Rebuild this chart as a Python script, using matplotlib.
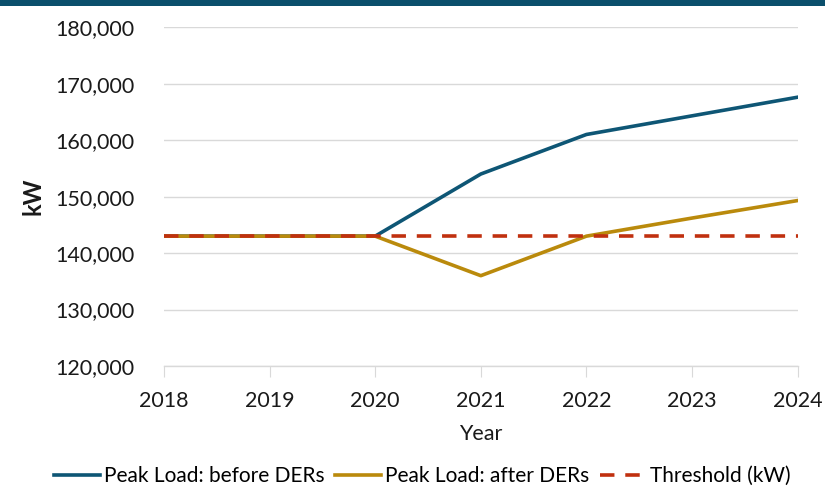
import matplotlib.pyplot as plt
from matplotlib.ticker import FuncFormatter

plt.rcParams["font.family"] = ["Lato", "DejaVu Sans"]

# data
years = [2018, 2019, 2020, 2021, 2022, 2023, 2024]
before_ders = [143000, 143000, 143000, 154000, 161000, 164300, 167600]
after_ders = [143000, 143000, 143000, 136000, 143000, 146200, 149300]
threshold = [143000] * 7

fig = plt.figure(figsize=(8.25, 4.94), dpi=100)
fig.patch.set_facecolor("white")

# dark band on top
fig.add_artist(plt.Rectangle((0, 1 - 6 / 494), 1, 6 / 494, transform=fig.transFigure,
                             facecolor="#0B4F6C", edgecolor="none"))

ax = fig.add_axes([0.1988, 0.259, 0.768, 0.686])

ax.plot(years, before_ders, color="#0E5675", linewidth=2.6, label="Peak Load: before DERs")
ax.plot(years, after_ders, color="#BA8A0C", linewidth=2.6, label="Peak Load: after DERs")
ax.plot(years, threshold, color="#C0300F", linewidth=2.6, linestyle=(0, (4, 3)),
        label="Threshold (kW)")

ax.set_xlim(2018, 2024)
ax.set_ylim(120000, 180000)
ax.set_yticks(range(120000, 180001, 10000))
ax.set_xticks(years)
ax.yaxis.set_major_formatter(FuncFormatter(lambda v, p: f"{int(v):,}"))

ax.grid(axis="y", color="#D9D9D9", linewidth=1)
ax.set_axisbelow(True)
for s in ["top", "right", "left"]:
    ax.spines[s].set_visible(False)
ax.spines["bottom"].set_color("#D9D9D9")
ax.spines["bottom"].set_linewidth(1)

ax.tick_params(axis="y", length=0, pad=21, labelsize=15.5, colors="#1a1a1a")
ax.tick_params(axis="x", length=8, color="#D9D9D9", pad=10, labelsize=15.5, labelcolor="#1a1a1a")

ax.set_xlabel("Year", fontsize=15.5, color="#1a1a1a", labelpad=9)
ax.set_ylabel("kW", fontsize=17, fontweight="bold", color="#1a1a1a", labelpad=8)

fig.legend(loc="lower center", bbox_to_anchor=(0.512, -0.022), ncol=3, frameon=False,
           fontsize=15, handlelength=2.2, handletextpad=0.2, columnspacing=0.5)

plt.savefig("out.png", dpi=100)
